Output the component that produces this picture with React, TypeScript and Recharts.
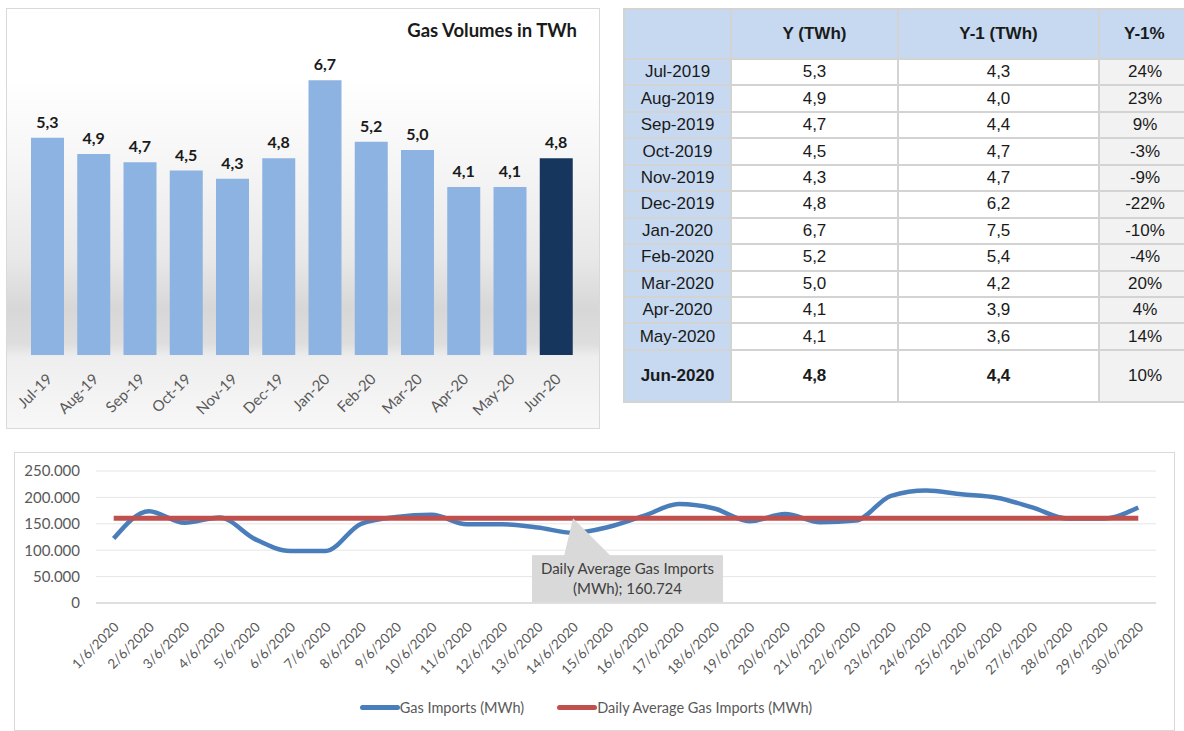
import { BarChart, Bar, XAxis, YAxis, Cell, LabelList, LineChart, Line, CartesianGrid, Legend, ReferenceDot } from 'recharts';

const months = ['Jul-19', 'Aug-19', 'Sep-19', 'Oct-19', 'Nov-19', 'Dec-19', 'Jan-20', 'Feb-20', 'Mar-20', 'Apr-20', 'May-20', 'Jun-20'];
const tableMonths = ['Jul-2019', 'Aug-2019', 'Sep-2019', 'Oct-2019', 'Nov-2019', 'Dec-2019', 'Jan-2020', 'Feb-2020', 'Mar-2020', 'Apr-2020', 'May-2020', 'Jun-2020'];
const volumesY = [5.3, 4.9, 4.7, 4.5, 4.3, 4.8, 6.7, 5.2, 5.0, 4.1, 4.1, 4.8];
const volumesY1 = [4.3, 4.0, 4.4, 4.7, 4.7, 6.2, 7.5, 5.4, 4.2, 3.9, 3.6, 4.4];
const changePct = [24, 23, 9, -3, -9, -22, -10, -4, 20, 4, 14, 10];

const days = ['1/6/2020', '2/6/2020', '3/6/2020', '4/6/2020', '5/6/2020', '6/6/2020', '7/6/2020', '8/6/2020', '9/6/2020', '10/6/2020',
  '11/6/2020', '12/6/2020', '13/6/2020', '14/6/2020', '15/6/2020', '16/6/2020', '17/6/2020', '18/6/2020', '19/6/2020', '20/6/2020',
  '21/6/2020', '22/6/2020', '23/6/2020', '24/6/2020', '25/6/2020', '26/6/2020', '27/6/2020', '28/6/2020', '29/6/2020', '30/6/2020'];
const gasImports = [122000, 174000, 152000, 162000, 121000, 98500, 98500, 150000, 163000, 167000,
  149000, 149000, 143000, 133000, 144000, 165000, 187500, 179000, 155000, 168500,
  153000, 156000, 203000, 213000, 206000, 199500, 181000, 160000, 160000, 181000];
const avgImports = 160724;
const yTicks = [0, 50000, 100000, 150000, 200000, 250000];
const gridValues = [0, 10000, 20000, 30000, 40000, 50000, 60000, 70000, 80000, 90000, 100000, 110000, 120000, 130000, 140000,
  150000, 160000, 170000, 180000, 190000, 200000, 210000, 220000, 230000, 240000, 250000];

const barData = months.map((m, i) => ({ month: m, value: volumesY[i] }));
const lineData = days.map((d, i) => ({ day: d, imports: gasImports[i], avg: avgImports }));

const FONT = 'Lato, "Noto Sans", sans-serif';
const ARIAL = '"Liberation Sans", Arial, sans-serif';

const dec = (v: number) => v.toFixed(1).replace('.', ',');
const thousands = (v: number) => String(v).replace(/\B(?=(\d{3})+(?!\d))/g, '.');

const RotTick = ({ x, y, payload, dx, dy, size }: any) => (
  <text
    transform={`translate(${x + dx},${y + dy}) rotate(-45)`}
    textAnchor="end"
    fill="#595959"
    fontSize={size}
    fontFamily={FONT}
  >
    {payload.value}
  </text>
);

const Callout = ({ cx, cy }: any) => {
  const left = cx - 41;
  const top = cy + 37;
  return (
    <g>
      <polygon points={`${cx},${cy} ${cx - 9},${top + 1} ${cx + 38},${top + 1}`} fill="#d9d9d9" />
      <rect x={left} y={top} width={191} height={47} fill="#d9d9d9" />
      <text x={left + 95.5} y={top + 19} textAnchor="middle" fontSize={15} fontFamily={FONT} fill="#404040">
        Daily Average Gas Imports
      </text>
      <text x={left + 95.5} y={top + 39} textAnchor="middle" fontSize={15} fontFamily={FONT} fill="#404040">
        (MWh); {thousands(avgImports)}
      </text>
    </g>
  );
};

const LineLegend = () => (
  <div style={{ height: 40, display: 'flex', alignItems: 'center', justifyContent: 'center', fontFamily: FONT, fontSize: 14.5, color: '#595959', paddingRight: 14, paddingBottom: 6, boxSizing: 'border-box' }}>
    <span style={{ display: 'inline-block', width: 40, height: 5, borderRadius: 3, background: '#4a7ebb' }} />
    <span>Gas Imports (MWh)</span>
    <span style={{ display: 'inline-block', width: 40, height: 5, borderRadius: 3, background: '#c0504d', marginLeft: 33 }} />
    <span>Daily Average Gas Imports (MWh)</span>
  </div>
);

const cell: any = { border: '2px solid #d3d3d3', textAlign: 'center', padding: 0, color: '#1a1a1a' };

export default function App() {
  return (
    <div style={{ position: 'absolute', left: 0, top: 0, width: 1184, height: 731, overflow: 'hidden', background: '#fff' }}>
      {/* monthly bars */}
      <div
        style={{
          position: 'absolute', left: 6, top: 8, width: 594, height: 421, boxSizing: 'border-box', border: '1px solid #d9d9d9',
          background: 'linear-gradient(to bottom, #ffffff 0px, #ffffff 70px, #f5f5f5 160px, #e8e8e8 250px, #d7d7d7 300px, #dedede 335px, #eeeeee 348px, #f5f5f5 400px, #f7f7f7 100%)',
        }}
      >
        <div style={{ position: 'absolute', right: 22, top: 10, fontFamily: FONT, fontWeight: 700, fontSize: 18.5, color: '#1a1a1a' }}>
          Gas Volumes in TWh
        </div>
        <BarChart width={594} height={421} data={barData} margin={{ top: 19, right: 21, left: 18, bottom: 0 }} style={{ position: 'absolute', left: -1, top: -1 }}>
          <XAxis dataKey="month" height={74} axisLine={false} tickLine={false} interval={0} tick={<RotTick dx={6} dy={17} size={15} />} />
          <YAxis hide domain={[0, 8]} />
          <Bar dataKey="value" barSize={33} isAnimationActive={false}>
            {barData.map((_, i) => (
              <Cell key={i} fill={i === barData.length - 1 ? '#17365d' : '#8db3e2'} />
            ))}
            <LabelList dataKey="value" position="top" offset={10} formatter={dec} fill="#1a1a1a" fontSize={16} fontWeight={700} fontFamily={FONT} />
          </Bar>
        </BarChart>
      </div>

      {/* summary table */}
      <table
        style={{ position: 'absolute', left: 623, top: 8, width: 580, borderCollapse: 'collapse', tableLayout: 'fixed', fontFamily: ARIAL, fontSize: 17 }}
      >
        <colgroup>
          <col style={{ width: 107 }} />
          <col style={{ width: 167 }} />
          <col style={{ width: 201 }} />
          <col style={{ width: 105 }} />
        </colgroup>
        <thead>
          <tr style={{ height: 50, background: '#c6d9f1' }}>
            <th style={cell}></th>
            <th style={cell}>Y (TWh)</th>
            <th style={cell}>Y-1 (TWh)</th>
            <th style={{ ...cell, textAlign: 'left', paddingLeft: 24 }}>Y-1%</th>
          </tr>
        </thead>
        <tbody>
          {tableMonths.map((m, i) => {
            const last = i === tableMonths.length - 1;
            const fw = last ? 700 : 400;
            return (
              <tr key={m} style={{ height: last ? 52 : 26.45 }}>
                <td style={{ ...cell, background: '#c6d9f1', fontWeight: fw }}>{m}</td>
                <td style={{ ...cell, fontWeight: fw }}>{dec(volumesY[i])}</td>
                <td style={{ ...cell, fontWeight: fw }}>{dec(volumesY1[i])}</td>
                <td style={{ ...cell, background: '#f2f2f2', textAlign: 'left', paddingLeft: 0 }}>
                  <div style={{ width: 90, textAlign: 'center' }}>{changePct[i]}%</div>
                </td>
              </tr>
            );
          })}
        </tbody>
      </table>

      {/* daily imports */}
      <div style={{ position: 'absolute', left: 14, top: 452, width: 1161, height: 279, boxSizing: 'border-box', border: '1px solid #d9d9d9', background: '#fff' }}>
        <LineChart width={1161} height={278} data={lineData} margin={{ top: 19, right: 19, left: 16, bottom: 0 }} style={{ position: 'absolute', left: -1, top: -1 }}>
          <CartesianGrid vertical={false} horizontalValues={gridValues} stroke="#e6e6e6" />
          <XAxis
            dataKey="day"
            height={87}
            interval={0}
            padding={{ left: 17.7, right: 17.7 }}
            tickLine={false}
            axisLine={{ stroke: '#d9d9d9', strokeWidth: 1.5 }}
            tick={<RotTick dx={6} dy={17} size={13.5} />}
          />
          <YAxis
            width={66}
            domain={[0, 250000]}
            ticks={yTicks}
            axisLine={false}
            tickLine={false}
            tickMargin={10}
            tickFormatter={thousands}
            tick={{ fill: '#595959', fontSize: 15, fontFamily: FONT }}
          />
          <Legend verticalAlign="bottom" height={40} content={<LineLegend />} />
          <Line type="monotone" dataKey="imports" stroke="#4a7ebb" strokeWidth={4.5} dot={false} isAnimationActive={false} />
          <Line type="monotone" dataKey="avg" stroke="#c0504d" strokeWidth={5} dot={false} isAnimationActive={false} />
          <ReferenceDot x="14/6/2020" y={avgImports} r={0} shape={<Callout />} />
        </LineChart>
      </div>
    </div>
  );
}
